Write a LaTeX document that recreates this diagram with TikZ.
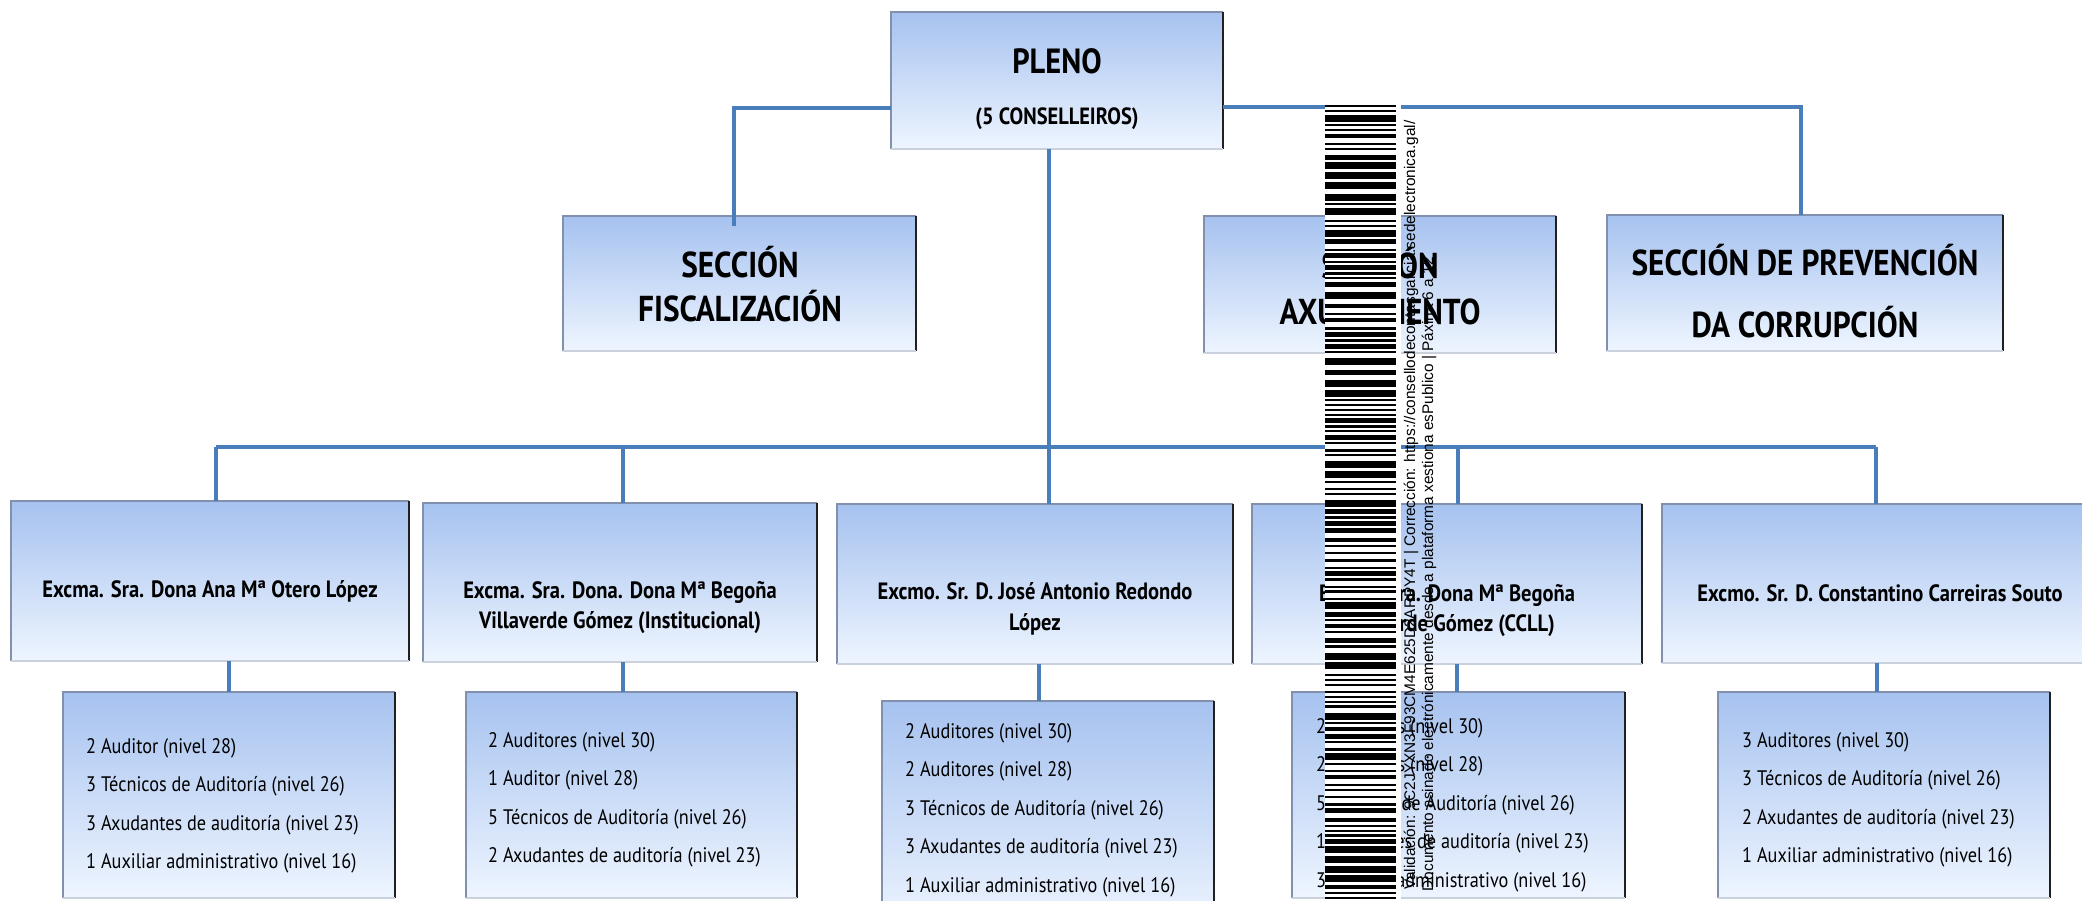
\documentclass[tikz,border=0pt]{standalone}
\usepackage{fontspec}
\setmainfont{PT Sans}[FakeStretch=0.87]
\newfontfamily\stampfont{Liberation Sans}
\usetikzlibrary{calc}
\definecolor{linkc}{HTML}{4A7EBB}
\definecolor{boxtop}{HTML}{A6C2EF}
\definecolor{boxbot}{HTML}{EEF5FF}
\definecolor{edgeA}{HTML}{8090AD}
\definecolor{edgeB}{HTML}{202020}
\definecolor{edgeC}{HTML}{C9D1DD}
\newcommand{\boxedges}[1]{%
  \draw[edgeA, line width=1.6pt] (#1.south west) -- (#1.north west) -- (#1.north east);
  \draw[edgeB, line width=1.6pt] (#1.north east) -- (#1.south east);
  \draw[edgeC, line width=1.6pt] (#1.south west) -- (#1.south east);}
\tikzset{
  obox/.style={inner sep=0pt, outer sep=0pt, shading=axis, top color=boxtop, bottom color=boxbot},
  link/.style={draw=linkc, line width=4pt},
  bigt/.style={inner sep=0pt, anchor=base, font=\bfseries\fontsize{36}{40}\selectfont},
  namet/.style={inner sep=0pt, anchor=base, font=\bfseries\fontsize{23.6}{27}\selectfont},
  stafft/.style={inner sep=0pt, anchor=north west, align=left, font=\fontsize{21}{38.5}\selectfont},
  stampt/.style={inner sep=0pt, rotate=90, font=\stampfont\fontsize{15.4}{19}\selectfont},
}
\begin{document}
\begin{tikzpicture}[x=1pt,y=-1pt]
\useasboundingbox (0,0) rectangle (2082,901);
\fill[white] (0,0) rectangle (2082,901);
% boxes
\node[obox, minimum width=332, minimum height=137] (pleno) at (1057,80.5) {};
\node[obox, minimum width=353, minimum height=135] (fisc) at (739.5,283.5) {};
\node[obox, minimum width=352, minimum height=137] (axu) at (1380,284.5) {};
\node[obox, minimum width=396, minimum height=136] (prev) at (1805,283) {};
\node[obox, minimum width=398, minimum height=160] (m1) at (210,581) {};
\node[obox, minimum width=394, minimum height=159] (m2) at (620,582.5) {};
\node[obox, minimum width=396, minimum height=160] (m3) at (1035,584) {};
\node[obox, minimum width=390, minimum height=160] (m4) at (1447,584) {};
\node[obox, minimum width=438, minimum height=159] (m5) at (1881,583.5) {};
\node[obox, minimum width=332, minimum height=206] (s1) at (229,795) {};
\node[obox, minimum width=331, minimum height=206] (s2) at (631.5,795) {};
\node[obox, minimum width=332, minimum height=230] (s3) at (1048,816) {};
\node[obox, minimum width=333, minimum height=206] (s4) at (1458.5,795) {};
\node[obox, minimum width=332, minimum height=206] (s5) at (1884,795) {};
\foreach \b in {pleno,fisc,axu,prev,m1,m2,m3,m4,m5,s1,s2,s3,s4,s5}{\boxedges{\b}}
% connectors
\coordinate (fj) at (734,108);
\coordinate (pj) at (1801,107);
\coordinate (j1) at (216,447);
\coordinate (j2) at (623,447);
\coordinate (j3) at (1049,447);
\coordinate (j4) at (1458,447);
\coordinate (j5) at (1876,447);
\coordinate (d1) at (229,0);
\coordinate (d2) at (623,0);
\coordinate (d3) at (1039,0);
\coordinate (d4) at (1457,0);
\coordinate (d5) at (1877,0);
\draw[link] (pleno.west |- fj) -- (fj) -- ($(fj |- fisc.north)+(0,10)$);
\draw[link] (pleno.east |- pj) -- (pj) -- (pj |- prev.north);
\draw[link] (j1) -- (j5);
\draw[link] (pleno.south -| j3) -- (j3);
\foreach \k in {1,...,5}{
  \draw[link] (j\k) -- (j\k |- m\k.north);
  \draw[link] (m\k.south -| d\k) -- (s\k.north -| d\k);
}
% texts
\node[inner sep=0pt, anchor=base, font=\bfseries\fontsize{35}{40}\selectfont] (plenoa) at (1057,74) {PLENO};
\node[inner sep=0pt, anchor=base, font=\bfseries\fontsize{23.5}{27}\selectfont] (plenob) at (1057,125) {(5 CONSELLEIROS)};
\node[bigt] (fisca) at (740,277) {SECCIÓN};
\node[bigt] (fiscb) at (740,321) {FISCALIZACIÓN};
\node[bigt] (axua) at (1380,279) {SECCIÓN};
\node[bigt] (axub) at (1380,324) {AXUIZAMENTO};
\node[bigt] (preva) at (1805,276) {SECCIÓN DE PREVENCIÓN};
\node[bigt] (prevb) at (1805,337) {DA CORRUPCIÓN};
\node[namet] (n1) at (210,597) {Excma. Sra. Dona Ana Mª Otero López};
\node[namet] (n2a) at (620,598) {Excma. Sra. Dona. Dona Mª Begoña};
\node[namet] (n2b) at (620,628) {Villaverde Gómez (Institucional)};
\node[namet] (n3a) at (1035,599) {Excmo. Sr. D. José Antonio Redondo};
\node[namet] (n3b) at (1035,630) {López};
\node[namet] (n4a) at (1447,601) {Excma. Sra. Dona Mª Begoña};
\node[namet] (n4b) at (1447,631) {Villaverde Gómez (CCLL)};
\node[namet] (n5) at (1880,601) {Excmo. Sr. D. Constantino Carreiras Souto};
\node[stafft] (t1) at (86,733) {\rule{0pt}{20pt}2 Auditor (nivel 28)\\3 Técnicos de Auditoría (nivel 26)\\3 Axudantes de auditoría (nivel 23)\\1 Auxiliar administrativo (nivel 16)};
\node[stafft] (t2) at (488,727) {\rule{0pt}{20pt}2 Auditores (nivel 30)\\1 Auditor (nivel 28)\\5 Técnicos de Auditoría (nivel 26)\\2 Axudantes de auditoría (nivel 23)};
\node[stafft] (t3) at (905,718) {\rule{0pt}{20pt}2 Auditores (nivel 30)\\2 Auditores (nivel 28)\\3 Técnicos de Auditoría (nivel 26)\\3 Axudantes de auditoría (nivel 23)\\1 Auxiliar administrativo (nivel 16)};
\node[stafft] (t4) at (1316,713) {\rule{0pt}{20pt}2 Auditores (nivel 30)\\2 Auditores (nivel 28)\\5 Técnicos de Auditoría (nivel 26)\\1 Axudantes de auditoría (nivel 23)\\3 Auxiliar administrativo (nivel 16)};
\node[stafft] (t5) at (1742,727) {\rule{0pt}{20pt}3 Auditores (nivel 30)\\3 Técnicos de Auditoría (nivel 26)\\2 Axudantes de auditoría (nivel 23)\\1 Auxiliar administrativo (nivel 16)};
% barcode stamp
\fill[white] (1325,104) rectangle (1401,901);
\pgfmathsetseed{12345}
\xdef\by{105}
\foreach \i in {1,...,135}{
  \pgfmathsetmacro\bw{int(random(1,4))}
  \pgfmathsetmacro\bh{ifthenelse(\bw==4,7,ifthenelse(\bw==3,4.5,2.2))}
  \pgfmathsetmacro\gq{int(random(1,3))}
  \pgfmathsetmacro\gp{ifthenelse(\gq==1,5,2.6)}
  \pgfmathsetmacro\ny{\by+\bh}
  \fill[black] (1325,\by) rectangle (1396,\ny);
  \pgfmathsetmacro\nny{\ny+\gp}
  \xdef\by{\nny}
}
\node[stampt, anchor=base west] (st1) at (1415,890) {Validación: 9C2JYXN3F93CM4E625D2ARPY4T | Corrección: https://consellodecontasgalicia.sedelectronica.gal/};
\node[stampt, anchor=base east] (st2) at (1433,257) {Documento asinado electrónicamente desde a plataforma xestiona esPublico | Páxina 6 a 12};
\end{tikzpicture}
\end{document}
